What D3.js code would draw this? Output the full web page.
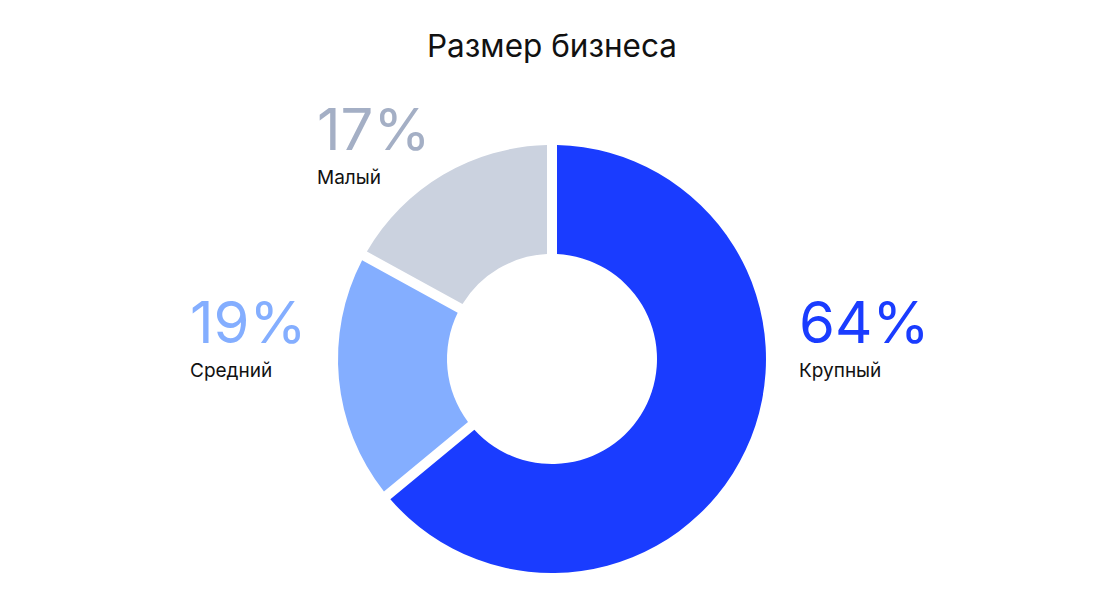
<!DOCTYPE html>
<html>
<head>
<meta charset="utf-8">
<script src="https://cdn.jsdelivr.net/npm/d3@7"></script>
<style>
  html, body { margin: 0; padding: 0; background: #fff; }
  svg { display: block; font-family: Inter, "Noto Sans", sans-serif; }
</style>
</head>
<body>
<svg id="chart" width="1104" height="612"></svg>
<script>
var title = "Размер бизнеса";
var categories = ["Крупный", "Средний", "Малый"];
var shares = [64, 19, 17];
var colors = ["#1a3cff", "#84aeff", "#cbd2df"];
var numberColors = ["#1a3cff", "#84aeff", "#a4afc5"];

var width = 1104;
var height = 612;
var cx = 552;
var cy = 359;
var outerR = 214;
var innerR = 105;
var gap = 10;

// where each label block sits relative to the centre (number baseline)
var labelOffsets = [
  { dx: 247, dy: -16 },
  { dx: -362, dy: -16 },
  { dx: -235, dy: -209 }
];

var svg = d3.select("#chart");

svg.append("text")
  .attr("x", cx)
  .attr("y", 57)
  .attr("text-anchor", "middle")
  .attr("font-size", 31.5)
  .attr("fill", "#111")
  .text(title);

var data = categories.map(function(c, i) {
  return { name: c, value: shares[i], color: colors[i], numColor: numberColors[i], i: i };
});

var pie = d3.pie()
  .sort(null)
  .value(function(d) { return d.value; });

var padR = Math.sqrt(innerR * innerR + outerR * outerR);

var arc = d3.arc()
  .innerRadius(innerR)
  .outerRadius(outerR)
  .padRadius(padR)
  .padAngle(gap / padR);

var g = svg.append("g")
  .attr("transform", "translate(" + cx + "," + cy + ")");

g.selectAll("path.slice")
  .data(pie(data))
  .enter()
  .append("path")
  .attr("class", "slice")
  .attr("d", arc)
  .attr("fill", function(d) { return d.data.color; });

var labels = g.selectAll("g.label")
  .data(data)
  .enter()
  .append("g")
  .attr("class", "label")
  .attr("transform", function(d) {
    var o = labelOffsets[d.i];
    return "translate(" + o.dx + "," + o.dy + ")";
  });

labels.append("text")
  .attr("font-size", 58)
  .attr("font-weight", 400)
  .attr("fill", function(d) { return d.numColor; })
  .text(function(d) { return d.value + "%"; });

labels.append("text")
  .attr("y", 34)
  .attr("font-size", 19)
  .attr("fill", "#111")
  .text(function(d) { return d.name; });
</script>
</body>
</html>
